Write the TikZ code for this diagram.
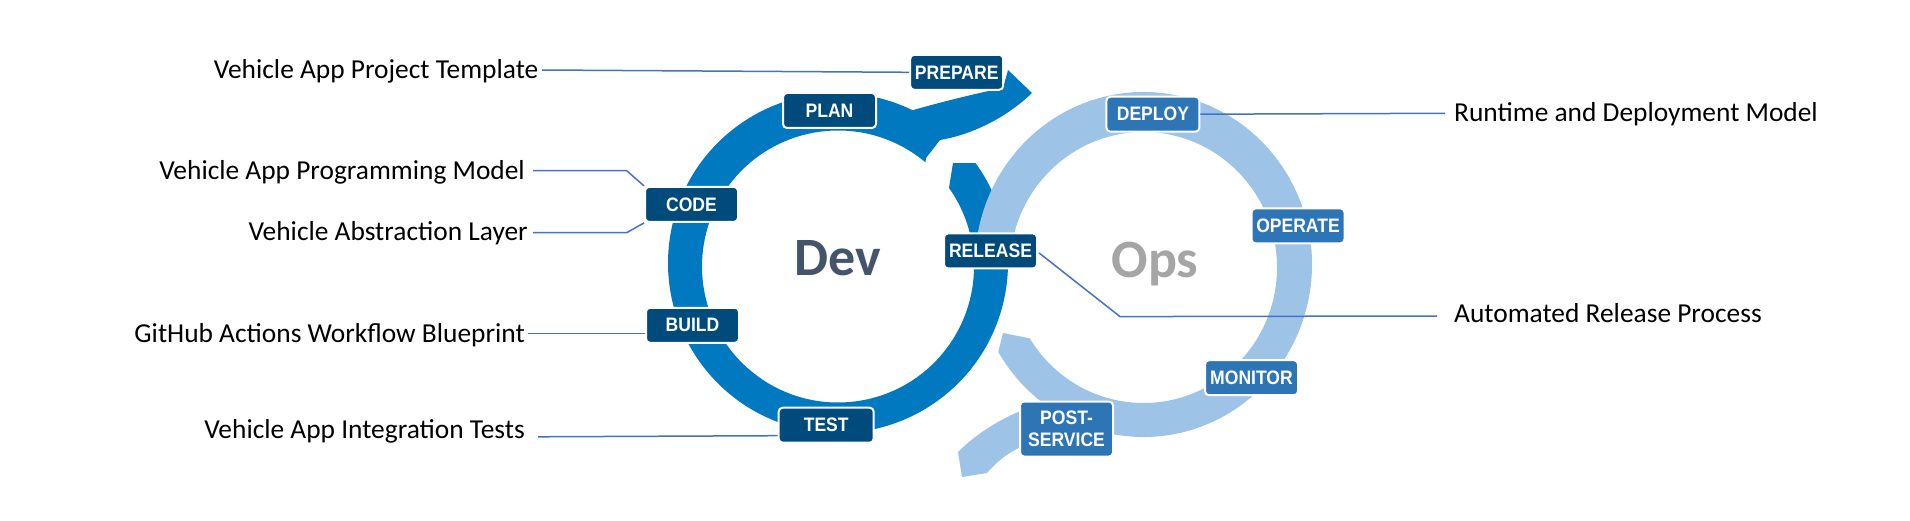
\documentclass[tikz,border=0pt]{standalone}
\usepackage{fontspec}
\setmainfont{Carlito}
\newfontfamily\boxfamily{Liberation Sans}[FakeStretch=0.9]
\usetikzlibrary{calc}
\definecolor{devring}{RGB}{0,121,193}
\definecolor{opsring}{RGB}{157,195,230}
\definecolor{devbox}{RGB}{0,75,124}
\definecolor{opsbox}{RGB}{46,117,182}
\definecolor{linkblue}{RGB}{68,114,196}
\definecolor{devtxt}{RGB}{68,84,106}
\definecolor{opstxt}{RGB}{165,165,165}
\begin{document}
\begin{tikzpicture}[x=1pt,y=-1pt,
  stage/.style={rounded corners=4pt, draw=white, line width=2pt, minimum width=93pt, minimum height=35pt, inner sep=0pt, text=white, font=\boxfamily\bfseries\fontsize{19.5}{22}\selectfont, align=center},
  devstage/.style={stage, fill=devbox},
  opsstage/.style={stage, fill=opsbox},
  side/.style={font=\fontsize{27.4}{30}\selectfont, text height=17.3pt, text depth=0pt, inner sep=0pt, text=black},
  link/.style={draw=linkblue, line width=1.5pt},
  bigword/.style={font=\bfseries\fontsize{54}{60}\selectfont, anchor=base}
]
\useasboundingbox (0,0) rectangle (1910,521);
\fill[white] (0,0) rectangle (1910,521);

% ring centres
\coordinate (Do) at (838,263);
\coordinate (Di) at (838,266.5);
\coordinate (Oo) at (1143.5,264.5);
\coordinate (Oi) at (1143.5,267.5);

% Dev ring with arrow
\fill[devring] ($(Do)+(-36:170)$) arc[start angle=-36, end angle=296, radius=170]
  .. controls (945,101) and (978,93) .. (1003,88) -- (1008,70) -- (1032,93)
  .. controls (1008,116) and (975,134) .. (940,140) -- (926,158)
  -- ($(Di)+(-50:136)$) arc[start angle=-50, end angle=-395.3, radius=136]
  -- (953,163) -- cycle;

% Ops ring
\fill[opsring] ($(Oo)+(149.5:168.5 and 172.5)$) arc[start angle=149.5, end angle=-178, x radius=168.5, y radius=172.5]
  -- ($(Oi)+(-178:133.5 and 135.5)$) arc[start angle=-178, end angle=148.5, x radius=133.5, y radius=135.5]
  -- (1003,333) -- cycle;
\fill[opsring] (1040,404) .. controls (1010,413) and (980,430) .. (958,452) -- (962,477) -- (987,473)
  .. controls (1000,458) and (1015,447) .. (1040,440) -- cycle;

% centre words
\node[bigword, text=devtxt] (dev) at (838,276) {Dev};
\node[bigword, text=opstxt] (ops) at (1155,277) {Ops};

% stage boxes
\node[devstage] (prep) at (956.7,72.3) {PREPARE};
\node[devstage] (plan) at (829.5,110.5) {PLAN};
\node[devstage] (code) at (691.5,204.4) {CODE};
\node[devstage] (build) at (692.5,325.3) {BUILD};
\node[devstage, minimum width=95pt] (test) at (826.2,425.2) {TEST};
\node[devstage] (release) at (990.5,250.9) {RELEASE};
\node[opsstage] (deploy) at (1152.9,114.2) {DEPLOY};
\node[opsstage] (operate) at (1298,225.9) {OPERATE};
\node[opsstage] (monitor) at (1251.5,377.7) {MONITOR};
\node[opsstage, minimum height=55pt] (post) at (1066.5,429) {POST-\\SERVICE};

% side texts
\node[side, anchor=east] (tProj) at (538.5,69.8) {Vehicle App Project Template};
\node[side, anchor=east] (tProg) at (525,170.5) {Vehicle App Programming Model};
\node[side, anchor=east] (tAbs) at (528,232) {Vehicle Abstraction Layer};
\node[side, anchor=east] (tGit) at (525,333.7) {GitHub Actions Workflow Blueprint};
\node[side, anchor=east] (tInt) at (525,430.3) {Vehicle App Integration Tests};
\node[side, anchor=west] (tRun) at (1454,112.8) {Runtime and Deployment Model};
\node[side, anchor=west] (tAut) at (1454,313.7) {Automated Release Process};

% connectors
\coordinate (kProg) at (626.7,170.7);
\coordinate (kAbs) at (626.7,232.7);
\coordinate (kRel) at (1120,316.6);
\draw[link] ($(tProj.east)+(3.5,0.2)$) -- (prep.west);
\draw[link] ($(tProg.east)+(8,0.2)$) -- (kProg) -- (code.north west);
\draw[link] ($(tAbs.east)+(5,0.7)$) -- (kAbs) -- (code.south west);
\draw[link] ($(tGit.east)+(3,0)$) -- (tGit.east -| build.west);
\draw[link] ($(tInt.east)+(13,6.5)$) -- ($(test.west)+(0,10.5)$);
\draw[link] (deploy.east) -- ($(tRun.west)+(-9,0.5)$);
\draw[link] ($(release.east)+(1,2)$) -- (kRel) -- ($(tAut.west)+(-17,2.3)$);
\end{tikzpicture}
\end{document}
